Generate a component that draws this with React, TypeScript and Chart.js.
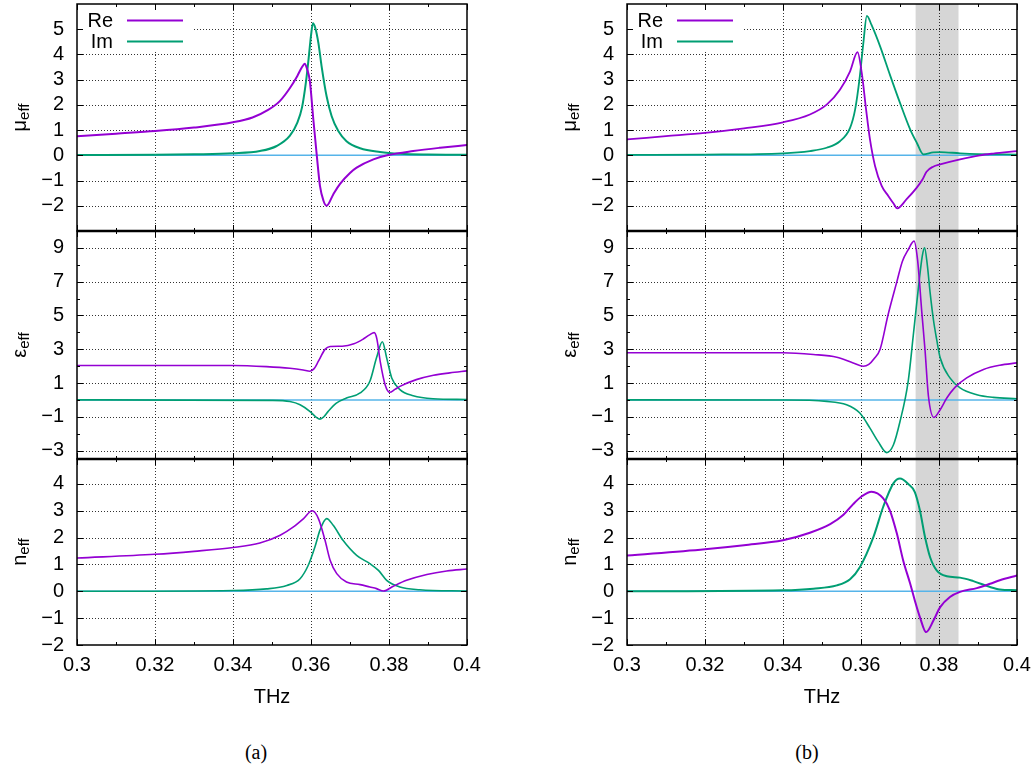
import { useEffect, useRef } from "react";
import { Chart, registerables } from "chart.js";

Chart.register(...registerables);

type Pt = [number, number];

// ---- axes -------------------------------------------------------------
const freqMin = 0.3;
const freqMax = 0.4;
const freqTicks = [0.3, 0.32, 0.34, 0.36, 0.38, 0.4];
const freqMinorTicks = [0.31, 0.33, 0.35, 0.37, 0.39];
const xTitle = "THz";

const muTicks = [-2, -1, 0, 1, 2, 3, 4, 5];
const muRange: Pt = [-3, 6];
const epsTicks = [-3, -1, 1, 3, 5, 7, 9];
const epsMinorTicks = [-2, 0, 2, 4, 6, 8];
const epsRange: Pt = [-3.5, 10];
const nTicks = [-2, -1, 0, 1, 2, 3, 4];
const nRange: Pt = [-2, 4.93];

const seriesNames = ["Re", "Im"];
const panelCaptions = ["(a)", "(b)"];

// shaded frequency band of structure (b)
const bandB: Pt = [0.374, 0.385];

// reference zero level
const zeroLine: Pt[] = [
  [0.3, 0],
  [0.4, 0],
];

// ---- structure (a) ----------------------------------------------------
const muReA: Pt[] = [
  [0.3, 0.76], [0.31, 0.86], [0.32, 0.96], [0.33, 1.1], [0.34, 1.31],
  [0.345, 1.5], [0.349, 1.8], [0.352, 2.15], [0.3546, 2.67], [0.3565, 3.15],
  [0.3577, 3.5], [0.3584, 3.63], [0.359, 3.42], [0.3597, 2.95], [0.3606, 1.42],
  [0.3615, -0.03], [0.3623, -1.21], [0.3632, -1.8], [0.364, -2.0], [0.3657, -1.55],
  [0.3674, -1.14], [0.37, -0.7], [0.3717, -0.49], [0.376, -0.16], [0.3798, 0.01],
  [0.3862, 0.17], [0.3931, 0.3], [0.4, 0.41],
];
const muImA: Pt[] = [
  [0.3, 0.01], [0.32, 0.02], [0.33, 0.04], [0.34, 0.08], [0.3469, 0.17],
  [0.3512, 0.37], [0.3546, 0.78], [0.3565, 1.3], [0.3577, 1.9], [0.3587, 2.9],
  [0.3595, 4.0], [0.36, 4.75], [0.3605, 5.24], [0.3611, 5.05], [0.3619, 4.45],
  [0.3627, 3.55], [0.364, 2.34], [0.3653, 1.55], [0.367, 0.96], [0.3691, 0.56],
  [0.3726, 0.28], [0.3777, 0.13], [0.3828, 0.06], [0.39, 0.03], [0.4, 0.02],
];
const epsReA: Pt[] = [
  [0.3, 2.04], [0.34, 2.04], [0.3486, 1.97], [0.3546, 1.87], [0.358, 1.77],
  [0.3597, 1.7], [0.3608, 1.85], [0.3619, 2.29], [0.3636, 2.99], [0.3649, 3.16],
  [0.368, 3.18], [0.371, 3.32], [0.3735, 3.62], [0.375, 3.85], [0.3762, 3.98],
  [0.3769, 3.6], [0.3778, 2.2], [0.379, 0.9], [0.3802, 0.45], [0.3815, 0.62],
  [0.3828, 0.8], [0.387, 1.2], [0.3914, 1.46], [0.3956, 1.6], [0.4, 1.72],
];
const epsImA: Pt[] = [
  [0.3, 0.0], [0.35, -0.03], [0.3546, -0.1], [0.3572, -0.29], [0.3597, -0.68],
  [0.3612, -1.0], [0.3623, -1.14], [0.3633, -1.0], [0.3644, -0.68], [0.3665, -0.19],
  [0.3691, 0.11], [0.3726, 0.41], [0.3751, 1.1], [0.3768, 2.49], [0.3783, 3.44],
  [0.3794, 2.49], [0.3807, 1.3], [0.3828, 0.61], [0.3862, 0.25], [0.3913, 0.07],
  [0.4, 0.02],
];
const nReA: Pt[] = [
  [0.3, 1.24], [0.32, 1.38], [0.33, 1.49], [0.34, 1.63], [0.3469, 1.8],
  [0.3521, 2.09], [0.3555, 2.4], [0.3581, 2.71], [0.3603, 3.0], [0.3619, 2.71],
  [0.3636, 1.9], [0.3649, 1.16], [0.3666, 0.66], [0.3691, 0.35], [0.3726, 0.25],
  [0.3751, 0.16], [0.3768, 0.1], [0.3786, 0.01], [0.3811, 0.19], [0.3845, 0.41],
  [0.3897, 0.63], [0.3948, 0.76], [0.4, 0.83],
];
const nImA: Pt[] = [
  [0.3, 0.0], [0.34, 0.03], [0.3486, 0.09], [0.3538, 0.22], [0.3572, 0.47],
  [0.3593, 0.97], [0.361, 1.65], [0.3623, 2.28], [0.364, 2.71], [0.3657, 2.46],
  [0.3682, 1.9], [0.3717, 1.34], [0.3751, 1.03], [0.3773, 0.78], [0.3794, 0.41],
  [0.3828, 0.16], [0.3879, 0.06], [0.4, 0.01],
];

// ---- structure (b) ----------------------------------------------------
const muReB: Pt[] = [
  [0.3, 0.63], [0.31, 0.76], [0.32, 0.89], [0.33, 1.07], [0.34, 1.31],
  [0.3469, 1.62], [0.3512, 2.01], [0.3546, 2.6], [0.3572, 3.33], [0.3591, 4.09],
  [0.3602, 3.26], [0.3613, 1.82], [0.3623, 0.63], [0.3636, -0.42], [0.3653, -1.21],
  [0.367, -1.61], [0.3683, -1.9], [0.3693, -2.1], [0.3717, -1.74], [0.3743, -1.28],
  [0.3758, -0.95], [0.3768, -0.65], [0.3785, -0.45], [0.3803, -0.36], [0.3854, -0.16],
  [0.3905, 0.0], [0.3939, 0.07], [0.4, 0.17],
];
const muImB: Pt[] = [
  [0.3, 0.02], [0.32, 0.03], [0.34, 0.08], [0.3469, 0.17], [0.3512, 0.3],
  [0.3546, 0.56], [0.3572, 1.09], [0.3585, 1.82], [0.3597, 3.13], [0.3606, 4.45],
  [0.3615, 5.53], [0.3627, 5.17], [0.3649, 4.32], [0.3674, 3.2], [0.37, 2.08],
  [0.3726, 1.03], [0.3743, 0.5], [0.376, 0.04], [0.3785, 0.12], [0.3803, 0.13],
  [0.3854, 0.08], [0.39, 0.05], [0.4, 0.03],
];
const epsReB: Pt[] = [
  [0.3, 2.79], [0.34, 2.79], [0.3478, 2.69], [0.3538, 2.53], [0.358, 2.19],
  [0.3606, 1.99], [0.362, 2.1], [0.3634, 2.45], [0.3649, 3.0], [0.3669, 5.0],
  [0.3692, 7.0], [0.3706, 8.2], [0.372, 8.85], [0.3736, 9.4], [0.3745, 8.3],
  [0.3756, 5.17], [0.3764, 3.0], [0.3773, 0.2], [0.3787, -1.04], [0.3803, -0.58],
  [0.382, 0.11], [0.3841, 0.74], [0.3871, 1.3], [0.3914, 1.8], [0.3956, 2.05],
  [0.4, 2.19],
];
const epsImB: Pt[] = [
  [0.3, 0.0], [0.34, -0.01], [0.3512, -0.09], [0.3563, -0.29], [0.3597, -0.78],
  [0.3623, -1.67], [0.3644, -2.47], [0.3666, -3.12], [0.3683, -2.67], [0.37, -1.28],
  [0.3721, 1.1], [0.3734, 3.8], [0.3747, 6.6], [0.3757, 8.5], [0.3763, 9.0],
  [0.377, 8.0], [0.3777, 6.4], [0.3786, 4.7], [0.3794, 3.58], [0.3803, 2.49],
  [0.3828, 1.3], [0.3854, 0.71], [0.3897, 0.31], [0.3939, 0.15], [0.4, 0.07],
];
const nReB: Pt[] = [
  [0.3, 1.33], [0.32, 1.57], [0.33, 1.72], [0.34, 1.9], [0.3469, 2.18],
  [0.3521, 2.5], [0.3555, 2.85], [0.358, 3.25], [0.3603, 3.55], [0.3627, 3.71],
  [0.3657, 3.46], [0.3674, 3.02], [0.3692, 2.15], [0.3708, 1.16], [0.3726, 0.29],
  [0.3738, -0.34], [0.3751, -0.96], [0.3767, -1.52], [0.3786, -1.08], [0.3803, -0.59],
  [0.3828, -0.21], [0.3854, -0.02], [0.3897, 0.12], [0.3931, 0.28], [0.3956, 0.41],
  [0.4, 0.59],
];
const nImB: Pt[] = [
  [0.3, 0.0], [0.34, 0.04], [0.3478, 0.1], [0.3538, 0.22], [0.3572, 0.45],
  [0.3597, 0.9], [0.3632, 2.03], [0.3657, 3.15], [0.3683, 4.02], [0.37, 4.2],
  [0.3721, 4.0], [0.3738, 3.7], [0.3751, 3.02], [0.3764, 2.03], [0.3777, 1.28],
  [0.3794, 0.78], [0.382, 0.56], [0.3854, 0.51], [0.3888, 0.38], [0.3931, 0.16],
  [0.3956, 0.07], [0.4, 0.04],
];

// ---- styling -----------------------------------------------------------
const RE_COLOR = "#9400d3";
const IM_COLOR = "#009e73";
const ZERO_COLOR = "#56b4e9";
const BAND_COLOR = "#d6d6d6";
const FONT = '"Liberation Sans", Arial, sans-serif';
const SERIF = '"Liberation Serif", "DejaVu Serif", serif';

Chart.defaults.font.family = FONT;
Chart.defaults.font.size = 20;
Chart.defaults.color = "#000";

// page geometry of the plot frames
const COL_LEFT = [77, 627];
const PLOT_W = 390;
const ROWS: Pt[] = [
  [4, 231],
  [231, 459],
  [459, 645],
];
const AXIS_W = 77;
const PAD_T = 32;
const PAD_R = 30;
const PAD_B = 32;
const XAXIS_H = 75;

type PanelSpec = {
  col: number;
  row: number;
  symbol: string;
  re: Pt[];
  im: Pt[];
  range: Pt;
  ticks: number[];
  minor: number[];
  lineWidth: number;
  band?: Pt;
  legend: boolean;
};

const panels: PanelSpec[] = [
  { col: 0, row: 0, symbol: "\u03bc", re: muReA, im: muImA, range: muRange, ticks: muTicks, minor: [], lineWidth: 2, legend: true },
  { col: 0, row: 1, symbol: "\u03b5", re: epsReA, im: epsImA, range: epsRange, ticks: epsTicks, minor: epsMinorTicks, lineWidth: 1.6, legend: false },
  { col: 0, row: 2, symbol: "n", re: nReA, im: nImA, range: nRange, ticks: nTicks, minor: [], lineWidth: 1.6, legend: false },
  { col: 1, row: 0, symbol: "\u03bc", re: muReB, im: muImB, range: muRange, ticks: muTicks, minor: [], lineWidth: 1.8, band: bandB, legend: true },
  { col: 1, row: 1, symbol: "\u03b5", re: epsReB, im: epsImB, range: epsRange, ticks: epsTicks, minor: epsMinorTicks, lineWidth: 1.6, band: bandB, legend: false },
  { col: 1, row: 2, symbol: "n", re: nReB, im: nImB, range: nRange, ticks: nTicks, minor: [], lineWidth: 2, band: bandB, legend: false },
];

const fmtFreq = (v: number) => String(Number(v.toFixed(2)));
const fmtVal = (v: number) => (v < 0 ? "\u2212" + Math.abs(v) : String(v));
const toXY = (pts: Pt[]) => pts.map(([x, y]) => ({ x, y }));

function canvasBox(p: PanelSpec) {
  const [top, bottom] = ROWS[p.row];
  const isBottom = p.row === ROWS.length - 1;
  return {
    left: COL_LEFT[p.col] - AXIS_W,
    top: top - PAD_T,
    width: AXIS_W + PLOT_W + PAD_R,
    height: PAD_T + (bottom - top) + (isBottom ? XAXIS_H : PAD_B),
    isBottom,
  };
}

function PanelChart({ spec }: { spec: PanelSpec }) {
  const ref = useRef<HTMLCanvasElement>(null);
  const box = canvasBox(spec);

  useEffect(() => {
    const canvas = ref.current;
    if (!canvas) return;
    const inside = (v: number, lo: number, hi: number) => v > lo + 1e-9 && v < hi - 1e-9;

    const decor = {
      id: "decor",
      beforeDatasetsDraw(chart: any) {
        const { ctx, chartArea: a, scales } = chart;
        const xs = scales.x;
        const ys = scales.y;
        ctx.save();
        if (spec.band) {
          const x0 = xs.getPixelForValue(spec.band[0]);
          const x1 = xs.getPixelForValue(spec.band[1]);
          ctx.fillStyle = BAND_COLOR;
          ctx.fillRect(x0, a.top, x1 - x0, a.bottom - a.top);
        }
        // dotted grid
        ctx.setLineDash([1, 2]);
        ctx.lineWidth = 1;
        ctx.strokeStyle = "rgba(0,0,0,0.8)";
        ctx.beginPath();
        for (const v of freqTicks) {
          if (!inside(v, freqMin, freqMax)) continue;
          const px = Math.round(xs.getPixelForValue(v)) + 0.5;
          ctx.moveTo(px, a.top);
          ctx.lineTo(px, a.bottom);
        }
        for (const v of spec.ticks) {
          if (!inside(v, spec.range[0], spec.range[1])) continue;
          const py = Math.round(ys.getPixelForValue(v)) + 0.5;
          ctx.moveTo(a.left, py);
          ctx.lineTo(a.right, py);
        }
        ctx.stroke();
        ctx.restore();
      },
      afterDatasetsDraw(chart: any) {
        const { ctx, chartArea: a, scales } = chart;
        const xs = scales.x;
        const ys = scales.y;
        ctx.save();

        // key
        if (spec.legend) {
          ctx.fillStyle = "#fff";
          ctx.fillRect(a.left + 1, a.top + 1, 116, 46);
          const colors = [RE_COLOR, IM_COLOR];
          seriesNames.forEach((name, i) => {
            const cy = a.top + 17 + i * 21;
            ctx.fillStyle = "#000";
            ctx.font = `20px ${FONT}`;
            ctx.textAlign = "right";
            ctx.textBaseline = "middle";
            ctx.fillText(name, a.left + 36, cy);
            ctx.strokeStyle = colors[i];
            ctx.lineWidth = spec.lineWidth;
            ctx.beginPath();
            ctx.moveTo(a.left + 50, cy - 0.5);
            ctx.lineTo(a.left + 106, cy - 0.5);
            ctx.stroke();
          });
        }

        // inward tick marks on all four sides
        ctx.strokeStyle = "#000";
        ctx.lineWidth = 1;
        ctx.beginPath();
        const xTick = (v: number, len: number) => {
          const px = Math.round(xs.getPixelForValue(v)) + 0.5;
          ctx.moveTo(px, a.bottom);
          ctx.lineTo(px, a.bottom - len);
          ctx.moveTo(px, a.top);
          ctx.lineTo(px, a.top + len);
        };
        const yTick = (v: number, len: number) => {
          const py = Math.round(ys.getPixelForValue(v)) + 0.5;
          ctx.moveTo(a.left, py);
          ctx.lineTo(a.left + len, py);
          ctx.moveTo(a.right, py);
          ctx.lineTo(a.right - len, py);
        };
        freqTicks.forEach((v) => xTick(v, 6));
        freqMinorTicks.forEach((v) => xTick(v, 3));
        spec.ticks.forEach((v) => yTick(v, 6));
        spec.minor.forEach((v) => yTick(v, 3));
        ctx.stroke();

        // frame
        ctx.lineWidth = 1.5;
        ctx.strokeRect(a.left, a.top, a.right - a.left, a.bottom - a.top);
        if (spec.row > 0) {
          ctx.lineWidth = 2.5;
          ctx.beginPath();
          ctx.moveTo(a.left, a.top);
          ctx.lineTo(a.right, a.top);
          ctx.stroke();
        }

        // y title with subscript
        ctx.fillStyle = "#000";
        ctx.translate(a.left - 51, (a.top + a.bottom) / 2);
        ctx.rotate(-Math.PI / 2);
        ctx.textBaseline = "alphabetic";
        ctx.textAlign = "left";
        ctx.font = `20px ${FONT}`;
        const w1 = ctx.measureText(spec.symbol).width;
        ctx.font = `15px ${FONT}`;
        const w2 = ctx.measureText("eff").width;
        const start = -(w1 + w2) / 2;
        ctx.font = `20px ${FONT}`;
        ctx.fillText(spec.symbol, start, 0);
        ctx.font = `15px ${FONT}`;
        ctx.fillText("eff", start + w1, 3);
        ctx.setTransform(1, 0, 0, 1, 0, 0);

        if (box.isBottom) {
          ctx.font = `20px ${FONT}`;
          ctx.textAlign = "center";
          ctx.textBaseline = "middle";
          ctx.fillText(xTitle, (a.left + a.right) / 2, a.bottom + 52);
        }
        ctx.restore();
      },
    };

    const lineDs = (label: string, pts: Pt[], color: string, width: number) => ({
      label,
      data: toXY(pts),
      borderColor: color,
      backgroundColor: color,
      borderWidth: width,
      pointRadius: 0,
      fill: false,
      cubicInterpolationMode: "monotone" as const,
      borderJoinStyle: "round" as const,
      borderCapStyle: "round" as const,
    });

    const chart = new Chart(canvas, {
      type: "line",
      data: {
        datasets: [
          lineDs(seriesNames[0], spec.re, RE_COLOR, spec.lineWidth),
          lineDs(seriesNames[1], spec.im, IM_COLOR, spec.lineWidth),
          lineDs("0", zeroLine, ZERO_COLOR, 1.5),
        ],
      },
      options: {
        animation: false,
        responsive: false,
        devicePixelRatio: 1,
        events: [],
        layout: {
          padding: { top: PAD_T, right: PAD_R, bottom: box.isBottom ? 0 : PAD_B, left: 0 },
        },
        plugins: { legend: { display: false }, tooltip: { enabled: false }, title: { display: false } },
        scales: {
          x: {
            type: "linear",
            min: freqMin,
            max: freqMax,
            display: box.isBottom,
            grid: { display: false, drawTicks: false },
            border: { display: false },
            afterBuildTicks: (s: any) => {
              s.ticks = freqTicks.map((v) => ({ value: v }));
            },
            afterFit: (s: any) => {
              s.height = box.isBottom ? XAXIS_H : 0;
            },
            ticks: {
              padding: 8,
              maxRotation: 0,
              autoSkip: false,
              font: { size: 20, family: FONT },
              color: "#000",
              callback: (v: any) => fmtFreq(Number(v)),
            },
          },
          y: {
            type: "linear",
            min: spec.range[0],
            max: spec.range[1],
            grid: { display: false, drawTicks: false },
            border: { display: false },
            afterBuildTicks: (s: any) => {
              s.ticks = spec.ticks.map((v) => ({ value: v }));
            },
            afterFit: (s: any) => {
              s.width = AXIS_W;
            },
            ticks: {
              padding: 13,
              autoSkip: false,
              font: { size: 20, family: FONT },
              color: "#000",
              callback: (v: any) => fmtVal(Number(v)),
            },
          },
        },
      },
      plugins: [decor],
    } as any);
    return () => chart.destroy();
  }, [spec]);

  return (
    <canvas
      ref={ref}
      width={box.width}
      height={box.height}
      style={{ position: "absolute", left: box.left, top: box.top, width: box.width, height: box.height }}
    />
  );
}

export default function App() {
  const captionX = [256, 807];
  return (
    <div
      style={{
        position: "absolute",
        left: 0,
        top: 0,
        width: 1035,
        height: 767,
        overflow: "hidden",
        background: "#fff",
      }}
    >
      {panels.map((p, i) => (
        <PanelChart key={i} spec={p} />
      ))}
      {panelCaptions.map((c, i) => (
        <div
          key={c}
          style={{
            position: "absolute",
            left: captionX[i] - 40,
            top: 740,
            width: 80,
            textAlign: "center",
            fontFamily: SERIF,
            fontSize: 20,
            lineHeight: "24px",
            color: "#000",
          }}
        >
          {c}
        </div>
      ))}
    </div>
  );
}
